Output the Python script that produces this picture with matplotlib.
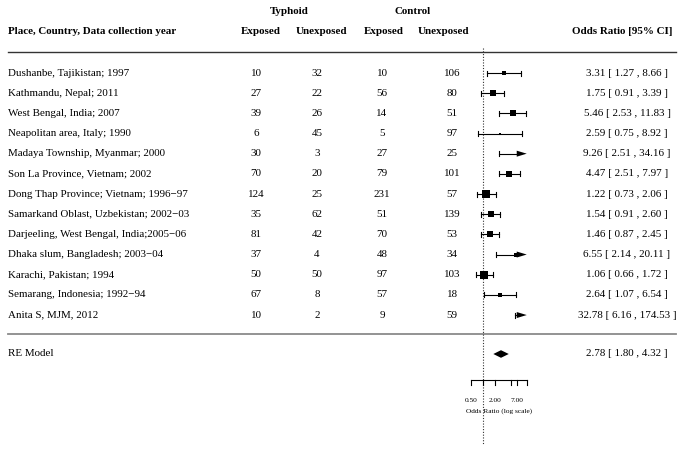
import numpy as np
import matplotlib.pyplot as plt
import matplotlib.transforms as mtransforms

plt.rcParams['font.family'] = ['Liberation Serif', 'DejaVu Serif']

# study data
studies = ["Dushanbe, Tajikistan; 1997",
           "Kathmandu, Nepal; 2011",
           "West Bengal, India; 2007",
           "Neapolitan area, Italy; 1990",
           "Madaya Township, Myanmar; 2000",
           "Son La Province, Vietnam; 2002",
           "Dong Thap Province; Vietnam; 1996\u221297",
           "Samarkand Oblast, Uzbekistan; 2002\u221203",
           "Darjeeling, West Bengal, India;2005\u221206",
           "Dhaka slum, Bangladesh; 2003\u221204",
           "Karachi, Pakistan; 1994",
           "Semarang, Indonesia; 1992\u221294",
           "Anita S, MJM, 2012"]
typh_exp = [10, 27, 39, 6, 30, 70, 124, 35, 81, 37, 50, 67, 10]
typh_unexp = [32, 22, 26, 45, 3, 20, 25, 62, 42, 4, 50, 8, 2]
ctrl_exp = [10, 56, 14, 5, 27, 79, 231, 51, 70, 48, 97, 57, 9]
ctrl_unexp = [106, 80, 51, 97, 25, 101, 57, 139, 53, 34, 103, 18, 59]
or_est = [3.31, 1.75, 5.46, 2.59, 9.26, 4.47, 1.22, 1.54, 1.46, 6.55, 1.06, 2.64, 32.78]
ci_lo = [1.27, 0.91, 2.53, 0.75, 2.51, 2.51, 0.73, 0.91, 0.87, 2.14, 0.66, 1.07, 6.16]
ci_hi = [8.66, 3.39, 11.83, 8.92, 34.16, 7.97, 2.06, 2.60, 2.45, 20.11, 1.72, 6.54, 174.53]
re_est, re_lo, re_hi = 2.78, 1.80, 4.32

axis_ticks = [0.5, 1, 2, 5, 7, 12]
axis_labels = ["0.50", "", "2.00", "", "7.00", ""]

# marker side (points)
sq_size = [3.1, 5.0, 4.4, 2.0, 0, 5.0, 5.6, 5.0, 5.0, 3.1, 5.6, 3.1, 0]

W, H = 684, 450
fig = plt.figure(figsize=(W / 100, H / 100), dpi=100)
ax = fig.add_axes([0, 0, 1, 1])
ax.set_xscale('log')
# 1.0 sits at x=483px, 17.6 px per ln unit
ppu = 17.6
ax.set_xlim(np.exp(-483 / ppu), np.exp((W - 483) / ppu))
ax.set_ylim(H, 0)
ax.axis('off')

tr = mtransforms.blended_transform_factory(ax.transAxes, ax.transData)
def px(x):
    return x / W

fs = 7.9
alim = (0.5, 12)

# headers
ax.text(px(289), 12, "Typhoid", transform=tr, ha='center', va='center', fontsize=fs, fontweight='bold')
ax.text(px(413), 12, "Control", transform=tr, ha='center', va='center', fontsize=fs, fontweight='bold')
ax.text(px(8), 31, "Place, Country, Data collection year", transform=tr, ha='left', va='center', fontsize=fs, fontweight='bold')
for xc, lab in zip([261, 321, 384, 443], ["Exposed", "Unexposed", "Exposed", "Unexposed"]):
    ax.text(px(xc), 31, lab, transform=tr, ha='center', va='center', fontsize=fs, fontweight='bold')
ax.text(px(673), 31, "Odds Ratio [95% CI]", transform=tr, ha='right', va='center', fontsize=fs, fontweight='bold')

ax.plot([px(8), px(676)], [52, 52], transform=tr, color='#333333', lw=1.0)
ax.plot([px(8), px(676)], [334, 334], transform=tr, color='#8a8a8a', lw=1.3)

# reference line at OR = 1
ax.plot([1, 1], [48, 445], color='#333333', lw=0.8, ls=(0, (1, 1.5)))

# arrowhead: 10px long, 3px half height
head = np.exp(10 / ppu)

y0, dy = 73, 20.17
for i in range(len(studies)):
    y = y0 + i * dy
    ax.text(px(8), y, studies[i], transform=tr, ha='left', va='center', fontsize=fs)
    for xc, v in zip([256, 317, 382, 452], [typh_exp[i], typh_unexp[i], ctrl_exp[i], ctrl_unexp[i]]):
        ax.text(px(xc), y, str(v), transform=tr, ha='center', va='center', fontsize=fs)
    ax.text(px(627), y, f"{or_est[i]:.2f} [ {ci_lo[i]:.2f} , {ci_hi[i]:.2f} ]",
            transform=tr, ha='center', va='center', fontsize=fs)

    lo = max(ci_lo[i], alim[0])
    hi = min(ci_hi[i], alim[1])
    if ci_hi[i] > alim[1]:
        ax.plot([lo, hi / head], [y, y], color='black', lw=0.8)
        ax.fill([hi / head, hi, hi / head], [y - 3, y, y + 3], color='black', lw=0)
    else:
        ax.plot([lo, hi], [y, y], color='black', lw=0.8)
        ax.plot([hi, hi], [y - 2.5, y + 2.5], color='black', lw=0.8)
    if ci_lo[i] >= alim[0]:
        ax.plot([lo, lo], [y - 2.5, y + 2.5], color='black', lw=0.8)
    if alim[0] <= or_est[i] <= alim[1] and sq_size[i] > 0:
        ax.plot(or_est[i], y, marker='s', ms=sq_size[i], color='black', mew=0)

# summary
yre = 354
ax.text(px(8), yre, "RE Model", transform=tr, ha='left', va='center', fontsize=fs)
ax.fill([re_lo, re_est, re_hi, re_est], [yre, yre - 3.8, yre, yre + 3.8], color='black', lw=0)
ax.text(px(627), yre, f"{re_est:.2f} [ {re_lo:.2f} , {re_hi:.2f} ]",
        transform=tr, ha='center', va='center', fontsize=fs)

# x axis
ya = 380
ax.plot(alim, [ya, ya], color='black', lw=0.8)
for t, lab in zip(axis_ticks, axis_labels):
    ax.plot([t, t], [ya, ya + 5], color='black', lw=0.8)
    if lab:
        ax.text(t, 400, lab, ha='center', va='center', fontsize=5.3)
ax.text(np.sqrt(alim[0] * alim[1]), 411, "Odds Ratio (log scale)", ha='center', va='center', fontsize=5.3)

fig.savefig("out.png", dpi=100)
